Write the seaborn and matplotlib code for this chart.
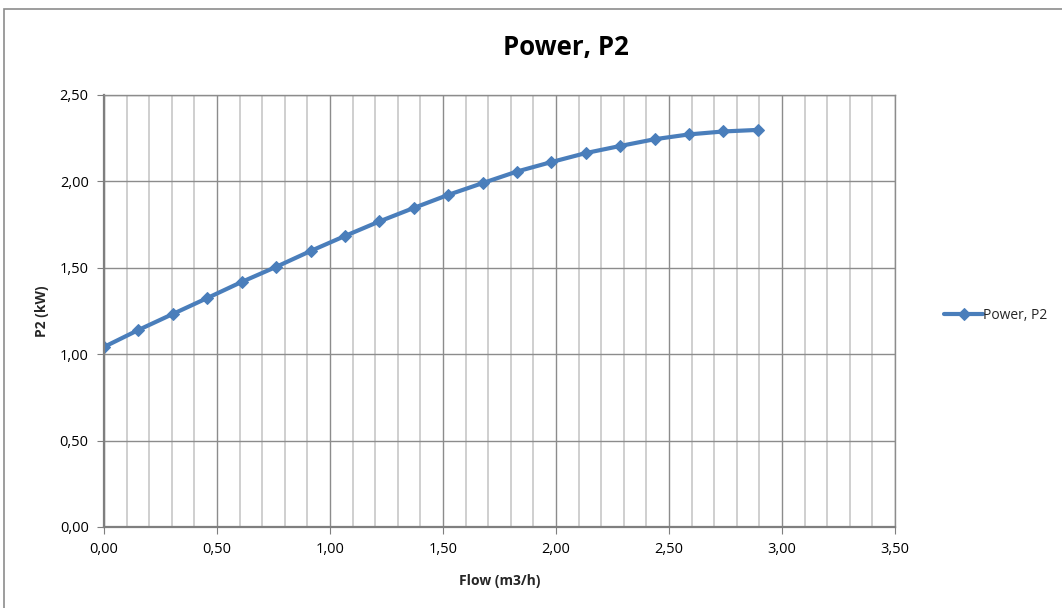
import numpy as np
import pandas as pd
import matplotlib
matplotlib.use("Agg")
import matplotlib.pyplot as plt
import seaborn as sns
from matplotlib.ticker import MultipleLocator, FuncFormatter

# Data
flow = [0.00, 0.152, 0.305, 0.457, 0.609, 0.761, 0.914, 1.066, 1.218, 1.370,
        1.523, 1.675, 1.827, 1.980, 2.132, 2.284, 2.436, 2.589, 2.741, 2.893]
power = [1.042, 1.140, 1.233, 1.325, 1.418, 1.505, 1.597, 1.684, 1.768, 1.846,
         1.922, 1.990, 2.057, 2.112, 2.164, 2.205, 2.244, 2.272, 2.289, 2.298]

df = pd.DataFrame({"Flow": flow, "Power": power, "series": "Power, P2"})

sns.set_style("white")
plt.rcParams["font.family"] = ["Open Sans", "DejaVu Sans"]

fig = plt.figure(figsize=(10.62, 6.08), dpi=100)
ax = fig.add_axes([104 / 1062, 81 / 608, 791 / 1062, 432 / 608])

blue = "#4A7EBB"
sns.lineplot(data=df, x="Flow", y="Power", hue="series", palette=[blue],
             marker="D", markersize=6.5, markeredgecolor=blue, linewidth=3,
             ax=ax)

ax.set_xlim(0, 3.5)
ax.set_ylim(0, 2.5)
ax.xaxis.set_major_locator(MultipleLocator(0.5))
ax.xaxis.set_minor_locator(MultipleLocator(0.1))
ax.yaxis.set_major_locator(MultipleLocator(0.5))
fmt = FuncFormatter(lambda v, p: f"{v:.2f}".replace(".", ","))
ax.xaxis.set_major_formatter(fmt)
ax.yaxis.set_major_formatter(fmt)

ax.grid(which="major", axis="both", color="#8c8c8c", linewidth=1.0)
ax.grid(which="minor", axis="x", color="#cccccc", linewidth=1.3)
ax.set_axisbelow(True)
for s in ["top", "right"]:
    ax.spines[s].set_color("#8c8c8c")
    ax.spines[s].set_linewidth(1.0)
for s in ["left", "bottom"]:
    ax.spines[s].set_color("#7f7f7f")
    ax.spines[s].set_linewidth(1.6)
ax.tick_params(which="major", direction="out", length=5, color="#7f7f7f",
               labelsize=10.5, labelcolor="#000000", bottom=True, left=True,
               pad=6)
ax.tick_params(which="minor", length=0)

# title is centred on the chart area, not the plot area
fig.text(566 / 1062, 1 - 48 / 608, "Power, P2", fontsize=18.5,
         fontweight="bold", color="black", ha="center", va="center")
ax.set_xlabel("Flow (m3/h)", fontsize=10, fontweight="bold", labelpad=12)
ax.set_ylabel("P2 (kW)", fontsize=10, fontweight="bold", labelpad=8)

ax.legend(loc="center left", bbox_to_anchor=(1.055, 0.49), frameon=False,
          fontsize=10, handlelength=2.8, handletextpad=0.0,
          borderaxespad=0.0)

# chart area border
fig.patches.append(plt.Rectangle((4 / 1062, -0.01), 1.1, 1.0 - 9 / 608 + 0.01,
                                 transform=fig.transFigure, fill=False,
                                 edgecolor="#8c8c8c", linewidth=1.2))

fig.savefig("out.png", dpi=100)
